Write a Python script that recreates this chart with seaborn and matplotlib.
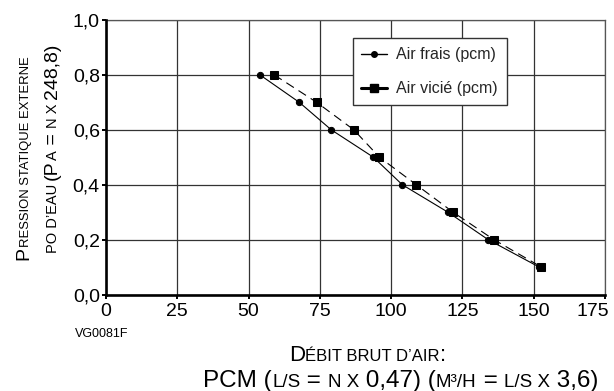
import matplotlib
matplotlib.use("Agg")
import pandas as pd
import seaborn as sns
import matplotlib.pyplot as plt
from matplotlib.lines import Line2D
from matplotlib.transforms import IdentityTransform, ScaledTranslation

# data
air_frais_debit = [54.0, 67.8, 79.0, 93.8, 103.9, 119.9, 134.0, 151.9]
air_frais_pression = [0.8, 0.7, 0.6, 0.5, 0.4, 0.3, 0.2, 0.1]
air_vicie_debit = [59.0, 73.9, 86.9, 95.9, 108.8, 121.7, 136.0, 152.7]
air_vicie_pression = [0.8, 0.7, 0.6, 0.5, 0.4, 0.3, 0.2, 0.1]

x_ticks = [0, 25, 50, 75, 100, 125, 150, 175]
y_ticks = [0.0, 0.2, 0.4, 0.6, 0.8, 1.0]
y_tick_labels = ["0,0", "0,2", "0,4", "0,6", "0,8", "1,0"]

serie_labels = ["Air frais (pcm)", "Air vicié (pcm)"]

# small caps labels: (text, fontsize)
ylabel_line1 = [("P", 14), ("RESSION STATIQUE EXTERNE", 9.4)]
ylabel_line2 = [("PO D’EAU ", 10.5), ("(P", 14), ("A", 10.5), (" = ", 14),
                ("N X ", 10.5), ("248,8)", 14)]
xlabel_line1 = [("D", 16), ("ÉBIT BRUT D’AIR", 12), (":", 16)]
xlabel_line2 = [("PCM (", 17.5), ("L/S", 13.5), (" = ", 17.5), ("N X", 13.5),
                (" 0,47) (", 17.5), ("M³/H", 13.5), (" = ", 17.5), ("L/S X", 13.5),
                (" 3,6)", 17.5)]
ref_code = "VG0081F"

FONT = "Liberation Sans"

df_frais = pd.DataFrame({"debit": air_frais_debit, "pression": air_frais_pression})
df_vicie = pd.DataFrame({"debit": air_vicie_debit, "pression": air_vicie_pression})

sns.set_style("white")
plt.rcParams["font.family"] = [FONT, "DejaVu Sans"]

W, H = 614, 391
fig = plt.figure(figsize=(W / 100, H / 100), dpi=100)
ax = fig.add_axes([106 / W, 1 - 294.5 / H, (605 - 106) / W, (294.5 - 20) / H])

sns.lineplot(data=df_frais, x="debit", y="pression", ax=ax, sort=False,
             color="black", lw=0.8, marker="o", markersize=4.5,
             markeredgecolor="black", markerfacecolor="black")
sns.lineplot(data=df_vicie, x="debit", y="pression", ax=ax, sort=False,
             color="black", lw=0.8, linestyle=(0, (8, 5)), marker="s",
             markersize=5.6, markeredgecolor="black", markerfacecolor="black")

ax.set_xlim(0, 175)
ax.set_ylim(0, 1.0)
ax.set_xticks(x_ticks)
ax.set_xticklabels([str(v) for v in x_ticks])
ax.set_yticks(y_ticks)
ax.set_yticklabels(y_tick_labels)
ax.tick_params(axis="both", labelsize=14, length=3, width=1.4,
               direction="out", color="black", labelcolor="black")
ax.tick_params(axis="x", pad=3, bottom=True)
ax.tick_params(axis="y", pad=1.5, left=True)
ax.grid(True, color="#333333", lw=0.9)
ax.set_axisbelow(True)
ax.set_xlabel("")
ax.set_ylabel("")

# the last x label is pushed left so it stays inside the picture
last = ax.get_xticklabels()[-1]
last.set_transform(last.get_transform() + ScaledTranslation(-9 / 72, 0, fig.dpi_scale_trans))

for side in ["left", "bottom"]:
    ax.spines[side].set_color("black")
    ax.spines[side].set_linewidth(1.9)
    ax.spines[side].set_zorder(5)
for side in ["top", "right"]:
    ax.spines[side].set_color("#555555")
    ax.spines[side].set_linewidth(0.9)

handles = [
    Line2D([], [], color="black", lw=1.0, marker="o", markersize=4),
    Line2D([], [], color="black", lw=2.2, marker="s", markersize=6),
]
leg = ax.legend(handles, serie_labels, loc="upper left",
                bbox_to_anchor=(0.494, 0.933), fontsize=11.5, frameon=True,
                fancybox=False, framealpha=1, edgecolor="#333333",
                handlelength=1.6, handletextpad=0.6, labelspacing=1.2,
                borderpad=0.55, borderaxespad=0)
leg.get_frame().set_linewidth(1.0)

renderer = fig.canvas.get_renderer()


def text_width(s, size):
    t = fig.text(0, 0, "x" + s + "x", fontsize=size)
    w1 = t.get_window_extent(renderer).width
    t.set_text("xx")
    w2 = t.get_window_extent(renderer).width
    t.remove()
    return w1 - w2


def small_caps(parts, cx, cy, rotation=0):
    """Lay out pieces of text of different sizes, centred on (cx, cy) in pixels.
    (cx, cy) is on the baseline."""
    widths = [text_width(s, size) for s, size in parts]
    total = sum(widths)
    pos = -total / 2
    for (s, size), w in zip(parts, widths):
        if rotation == 90:
            x, y = cx, cy + pos
        else:
            x, y = cx + pos, cy
        fig.text(x, y, s, fontsize=size, transform=IdentityTransform(),
                 rotation=rotation, rotation_mode="anchor", ha="left",
                 va="baseline", color="black")
        pos += w


small_caps(ylabel_line1, 28.5, 232.5, rotation=90)
small_caps(ylabel_line2, 57.0, 242.5, rotation=90)
small_caps(xlabel_line1, 367.5, 30.0)
small_caps(xlabel_line2, 401.0, 4.0)

fig.text(102, 54, ref_code, fontsize=9, transform=IdentityTransform(),
         ha="center", va="baseline", color="black")

fig.savefig("out.png", dpi=100)
